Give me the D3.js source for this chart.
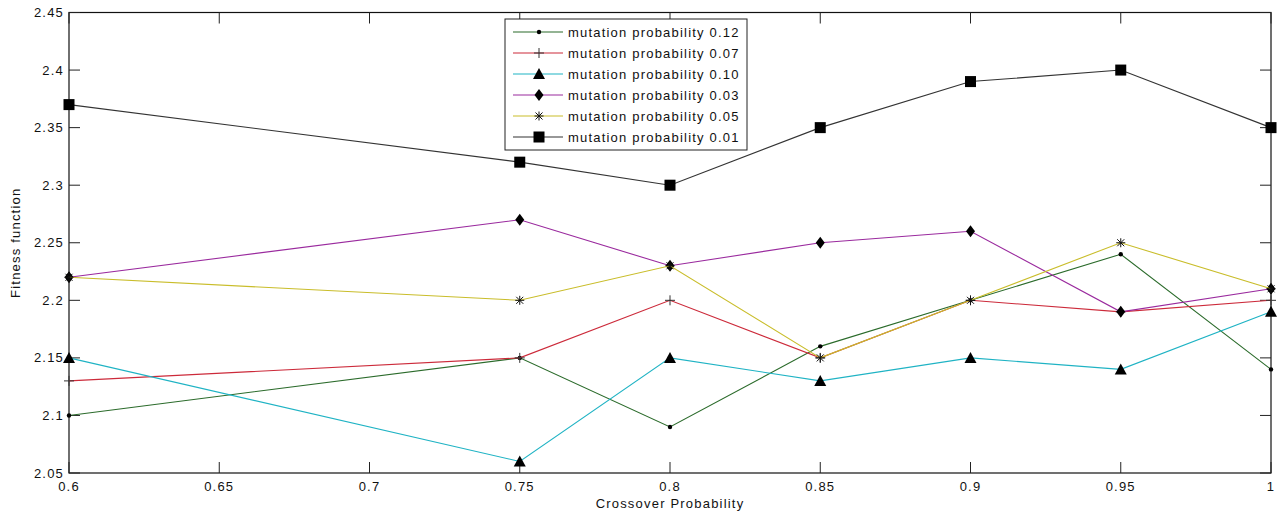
<!DOCTYPE html>
<html>
<head>
<meta charset="utf-8">
<script src="https://cdn.jsdelivr.net/npm/d3@7"></script>
<style>
  body { margin: 0; background: #fff; }
  svg { display: block; }
  text { font-family: "Liberation Sans", Arial, sans-serif; font-size: 13px; letter-spacing: 1.2px; fill: #111; }
</style>
</head>
<body>
<svg id="chart" width="1279" height="515"></svg>
<script>
// crossover probability on x
const crossover = [0.6, 0.75, 0.8, 0.85, 0.9, 0.95, 1];
const xTicks = [0.6, 0.65, 0.7, 0.75, 0.8, 0.85, 0.9, 0.95, 1];
const yTicks = [2.05, 2.1, 2.15, 2.2, 2.25, 2.3, 2.35, 2.4, 2.45];

// fitness for each mutation probability
const mut012 = [2.10, 2.15, 2.09, 2.16, 2.20, 2.24, 2.14];
const mut007 = [2.13, 2.15, 2.20, 2.15, 2.20, 2.19, 2.20];
const mut010 = [2.15, 2.06, 2.15, 2.13, 2.15, 2.14, 2.19];
const mut003 = [2.22, 2.27, 2.23, 2.25, 2.26, 2.19, 2.21];
const mut005 = [2.22, 2.20, 2.23, 2.15, 2.20, 2.25, 2.21];
const mut001 = [2.37, 2.32, 2.30, 2.35, 2.39, 2.40, 2.35];

const seriesNames = ['mutation probability 0.12', 'mutation probability 0.07', 'mutation probability 0.10',
  'mutation probability 0.03', 'mutation probability 0.05', 'mutation probability 0.01'];

const series = [
  { name: seriesNames[0], values: mut012, color: '#2b6b2b', marker: 'dot' },
  { name: seriesNames[1], values: mut007, color: '#cc2a3a', marker: 'plus' },
  { name: seriesNames[2], values: mut010, color: '#1fb3c4', marker: 'triangle' },
  { name: seriesNames[3], values: mut003, color: '#9a2a9e', marker: 'diamond' },
  { name: seriesNames[4], values: mut005, color: '#c9bd2a', marker: 'star' },
  { name: seriesNames[5], values: mut001, color: '#333333', marker: 'square' }
];

const svg = d3.select('#chart');
const pLeft = 69, pRight = 1271, pTop = 12.5, pBottom = 473;

const x = d3.scaleLinear().domain([0.6, 1]).range([pLeft, pRight]);
const y = d3.scaleLinear().domain([2.05, 2.45]).range([pBottom, pTop]);

// box
svg.append('rect')
  .attr('x', pLeft).attr('y', pTop)
  .attr('width', pRight - pLeft).attr('height', pBottom - pTop)
  .attr('fill', 'none').attr('stroke', '#111').attr('stroke-width', 1.2);

const T = 11;
// inward ticks on all four sides
const g = svg.append('g').attr('stroke', '#222').attr('stroke-width', 1);
xTicks.forEach(t => {
  g.append('line').attr('x1', x(t)).attr('x2', x(t)).attr('y1', pBottom).attr('y2', pBottom - T);
  g.append('line').attr('x1', x(t)).attr('x2', x(t)).attr('y1', pTop).attr('y2', pTop + T);
});
yTicks.forEach(t => {
  g.append('line').attr('x1', pLeft).attr('x2', pLeft + T).attr('y1', y(t)).attr('y2', y(t));
  g.append('line').attr('x1', pRight).attr('x2', pRight - T).attr('y1', y(t)).attr('y2', y(t));
});

svg.append('g').selectAll('text').data(xTicks).enter().append('text')
  .attr('x', d => x(d)).attr('y', pBottom + 18)
  .attr('text-anchor', 'middle')
  .text(d => d3.format('')(d));

svg.append('g').selectAll('text').data(yTicks).enter().append('text')
  .attr('x', pLeft - 5).attr('y', d => y(d) + 4.5)
  .attr('text-anchor', 'end')
  .text(d => d3.format('')(d));

svg.append('text')
  .attr('x', (pLeft + pRight) / 2).attr('y', pBottom + 35)
  .attr('text-anchor', 'middle')
  .text('Crossover Probability');

svg.append('text')
  .attr('transform', `translate(20,${(pTop + pBottom) / 2}) rotate(-90)`)
  .attr('text-anchor', 'middle')
  .text('Fitness function');

function drawMarker(sel, type, cx, cy) {
  if (type === 'square') {
    sel.append('rect').attr('x', cx - 5.5).attr('y', cy - 5.5).attr('width', 11).attr('height', 11).attr('fill', '#000');
  } else if (type === 'diamond') {
    sel.append('path').attr('d', `M${cx},${cy - 6}L${cx + 4.5},${cy}L${cx},${cy + 6}L${cx - 4.5},${cy}Z`).attr('fill', '#000');
  } else if (type === 'triangle') {
    sel.append('path').attr('d', `M${cx},${cy - 6}L${cx + 6},${cy + 5}L${cx - 6},${cy + 5}Z`).attr('fill', '#000');
  } else if (type === 'dot') {
    sel.append('circle').attr('cx', cx).attr('cy', cy).attr('r', 2.2).attr('fill', '#000');
  } else if (type === 'plus') {
    sel.append('path').attr('d', `M${cx - 5},${cy}H${cx + 5}M${cx},${cy - 5}V${cy + 5}`).attr('stroke', '#333').attr('stroke-width', 1);
  } else if (type === 'star') {
    sel.append('path').attr('d', `M${cx - 4.5},${cy}H${cx + 4.5}M${cx},${cy - 4.5}V${cy + 4.5}M${cx - 3.5},${cy - 3.5}L${cx + 3.5},${cy + 3.5}M${cx - 3.5},${cy + 3.5}L${cx + 3.5},${cy - 3.5}`)
      .attr('stroke', '#111').attr('stroke-width', 1);
  }
}

const line = d3.line().x((d, i) => x(crossover[i])).y(d => y(d));

series.forEach(s => {
  const sg = svg.append('g');
  sg.append('path').attr('d', line(s.values))
    .attr('fill', 'none').attr('stroke', s.color).attr('stroke-width', 1.1);
  s.values.forEach((v, i) => drawMarker(sg, s.marker, x(crossover[i]), y(v)));
});

// legend
const lg = svg.append('g');
lg.append('rect').attr('x', 505).attr('y', 19).attr('width', 242).attr('height', 131)
  .attr('fill', '#fff').attr('stroke', '#222').attr('stroke-width', 1);
series.forEach((s, i) => {
  const ly = 32 + i * 21;
  lg.append('line').attr('x1', 513).attr('x2', 563).attr('y1', ly).attr('y2', ly)
    .attr('stroke', s.color).attr('stroke-width', 1.1);
  drawMarker(lg, s.marker, 539, ly);
  lg.append('text').attr('x', 568).attr('y', ly + 4.5).text(s.name);
});
</script>
</body>
</html>
